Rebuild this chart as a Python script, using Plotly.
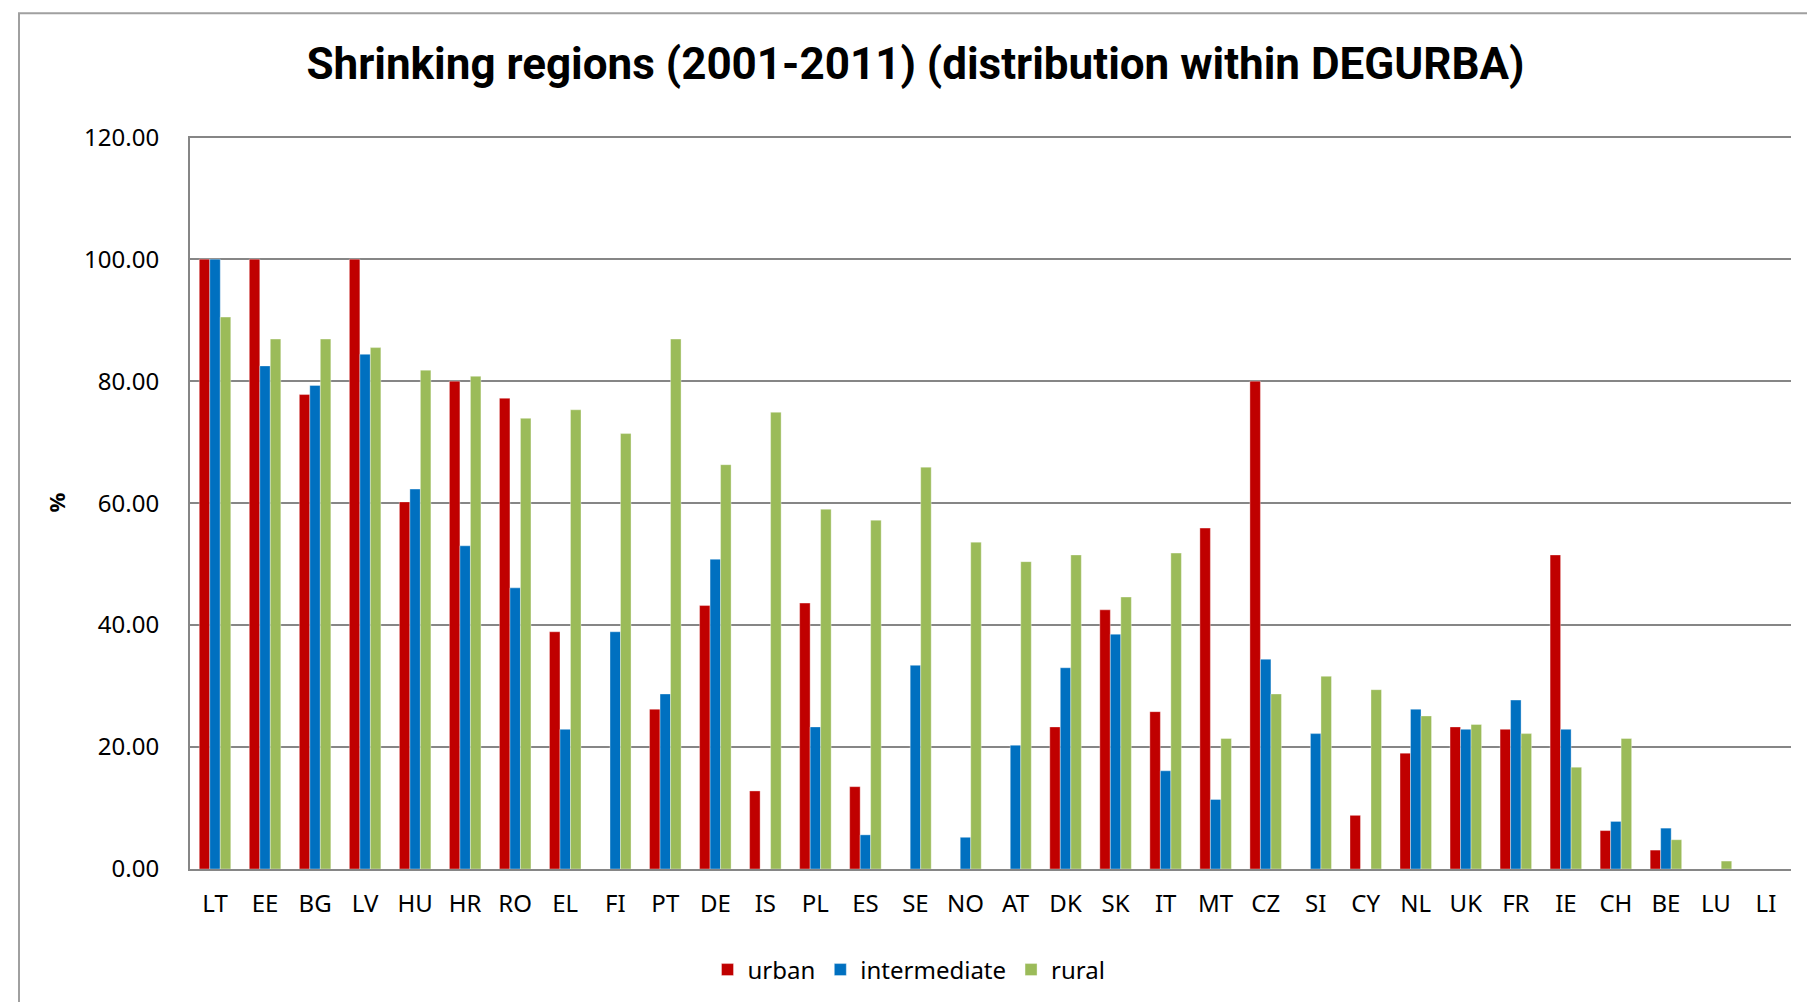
import plotly.graph_objects as go

countries = ["LT", "EE", "BG", "LV", "HU", "HR", "RO", "EL", "FI", "PT", "DE", "IS", "PL", "ES", "SE",
             "NO", "AT", "DK", "SK", "IT", "MT", "CZ", "SI", "CY", "NL", "UK", "FR", "IE", "CH", "BE", "LU", "LI"]
urban = [100.0, 100.0, 77.8, 100.0, 60.2, 80.0, 77.2, 38.9, 0, 26.2, 43.2, 12.8, 43.6, 13.5, 0,
         0, 0, 23.3, 42.5, 25.8, 55.9, 80.0, 0, 8.8, 19.0, 23.3, 22.9, 51.5, 6.3, 3.1, 0, 0]
intermediate = [100.0, 82.5, 79.3, 84.4, 62.3, 53.0, 46.1, 22.9, 38.9, 28.7, 50.8, 0, 23.3, 5.6, 33.4,
                5.2, 20.3, 33.0, 38.5, 16.1, 11.4, 34.4, 22.2, 0, 26.2, 22.9, 27.7, 22.9, 7.8, 6.7, 0, 0]
rural = [90.5, 86.9, 86.9, 85.5, 81.8, 80.8, 73.9, 75.3, 71.4, 86.9, 66.3, 74.9, 59.0, 57.2, 65.9,
         53.6, 50.4, 51.5, 44.6, 51.8, 21.4, 28.7, 31.6, 29.4, 25.1, 23.7, 22.2, 16.7, 21.4, 4.8, 1.3, 0]
y_ticks = [0, 20, 40, 60, 80, 100, 120]

series = [("urban", urban, "#C00000"), ("intermediate", intermediate, "#0070C0"), ("rural", rural, "#9BBB59")]

fig = go.Figure()
for name, vals, col in series:
    fig.add_trace(go.Bar(x=countries, y=vals, name=name,
                         marker=dict(color=col, line=dict(color="rgba(255,255,255,0.6)", width=0.6))))

W, H = 1815, 1002
L, R, B = 182, 1783, 861
YMAX = 120.2
T = B - (B - 129) * YMAX / 120.0

fig.update_layout(
    width=W, height=H,
    margin=dict(l=L, r=W - R, t=T, b=H - B, autoexpand=False),
    paper_bgcolor="white", plot_bgcolor="white",
    barmode="group", bargap=0.37, bargroupgap=0,
    font=dict(family="Noto Sans, Open Sans, sans-serif", color="black", size=24),
    title=dict(text="<b>Shrinking regions (2001-2011) (distribution within DEGURBA)</b>",
               x=0.5, xref="container", xanchor="center", y=1 - 56 / H, yanchor="middle",
               font=dict(family="Roboto, Liberation Sans, sans-serif", size=44, color="black")),
    xaxis=dict(showgrid=False, showline=True, linecolor="#868686", linewidth=2, ticks="",
               tickfont=dict(size=24), ticklabelstandoff=12),
    yaxis=dict(range=[0, YMAX], tickvals=y_ticks, ticktext=[f"{v:.2f}" for v in y_ticks],
               showgrid=True, gridcolor="#868686", gridwidth=2, showline=True, linecolor="#868686",
               linewidth=2, ticks="", zeroline=False, tickfont=dict(size=24), ticklabelstandoff=24,
               title=dict(text="<b>%</b>", font=dict(size=22), standoff=12)),
    legend=dict(orientation="h", x=(901 - L) / (R - L), xanchor="center", y=(B - 962) / (B - T), yanchor="middle",
                font=dict(size=24), itemwidth=30, traceorder="normal", bgcolor="rgba(0,0,0,0)"),
    showlegend=True,
)

# outer chart border (left, top, right)
x0 = (11 - L) / (R - L)
x1 = (1813 - L) / (R - L)
y_top = (B - 5) / (B - T)
y_bot = (B - 1100) / (B - T)
fig.add_shape(type="rect", xref="paper", yref="paper", x0=x0, x1=x1, y0=y_bot, y1=y_top,
              line=dict(color="#A0A0A0", width=2), fillcolor="rgba(0,0,0,0)", layer="below")

fig.write_html("out.html")
